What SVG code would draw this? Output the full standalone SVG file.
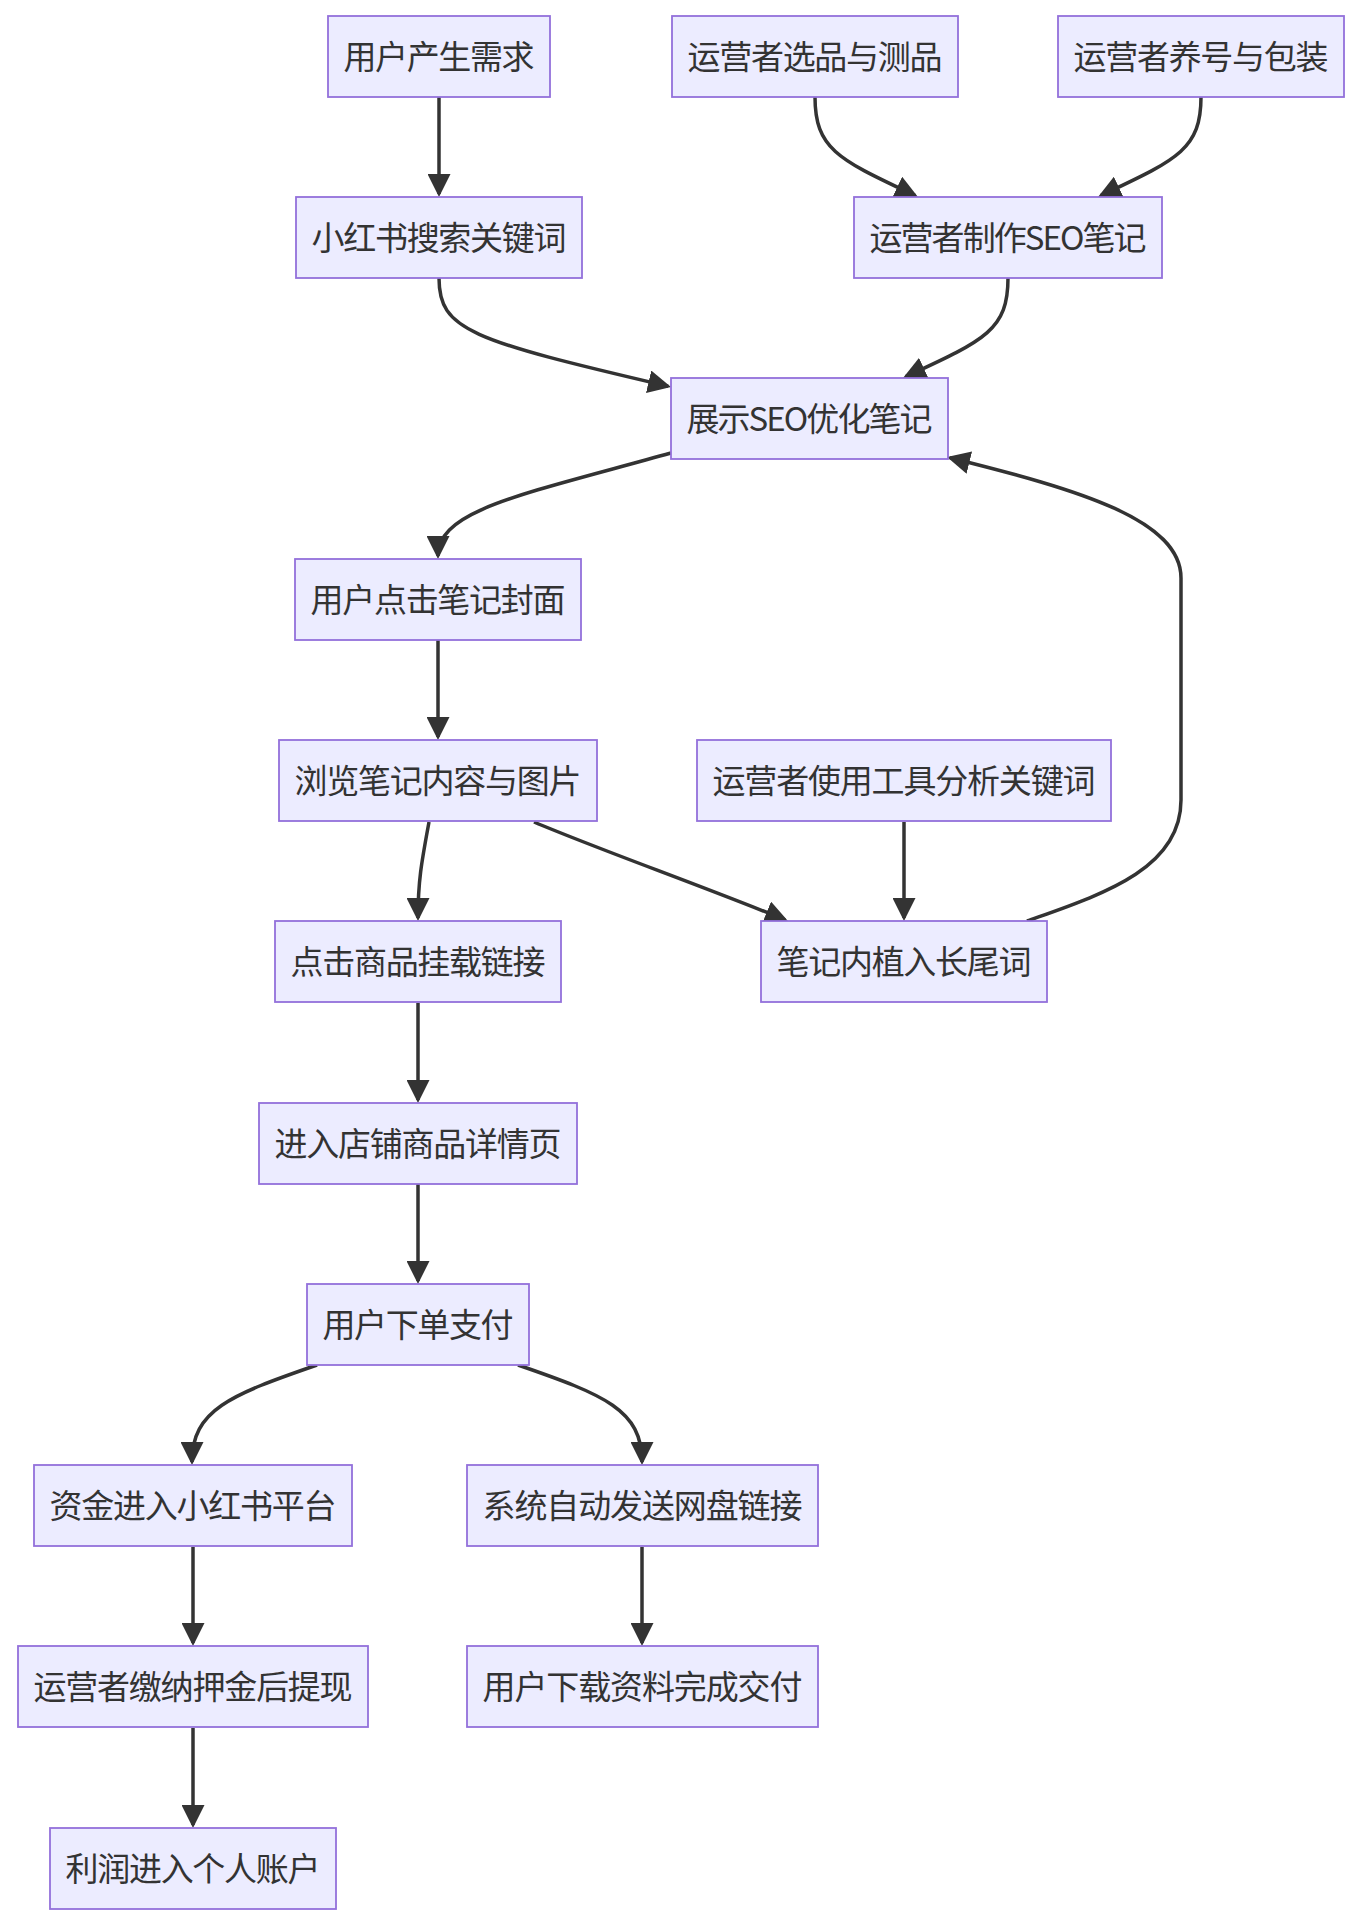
<svg xmlns="http://www.w3.org/2000/svg" width="1360" height="1926" viewBox="0 0 1360 1926">
<style>
.node rect{fill:#ECECFF;stroke:#9370DB;stroke-width:1.8}
.node text{font-family:"Noto Sans CJK SC","Noto Sans",sans-serif;font-size:33px;fill:#333;text-anchor:middle}
.edges path{fill:none;stroke:#333;stroke-width:3.5;marker-end:url(#arrow)}
</style>
<defs>
<marker id="arrow" viewBox="0 0 10 10" refX="8.7" refY="5" markerWidth="23" markerHeight="23" markerUnits="userSpaceOnUse" orient="auto">
<path d="M0,0 L10,5 L0,10 z" fill="#333"/>
</marker>
</defs>
<rect width="1360" height="1926" fill="#fff"/>
<g class="edges">
<path d="M439,97 L439,194"/>
<path d="M815,97 C815,150 840,160 915.3,195.7"/>
<path d="M1201,97 C1201,150 1176,160 1100.7,195.7"/>
<path d="M439,278 C439,330 470,340 668.1,386.3"/>
<path d="M1008,278 C1008,330 985,340 905.7,376.7"/>
<path d="M671,453 C520,495 438,510 438,556"/>
<path d="M1027,921 C1100,895 1181,870 1181,800 L1181,578 C1181,520 1080,490 949.9,457.7"/>
<path d="M438,640 L438,737"/>
<path d="M429,822 C422,860 418,880 418,918"/>
<path d="M534,822 C600,850 700,885 785.2,919.8"/>
<path d="M904,822 L904,918"/>
<path d="M418,1003 L418,1100"/>
<path d="M418,1184 L418,1281"/>
<path d="M317,1365 C230,1395 192,1410 192,1462"/>
<path d="M518,1365 C605,1395 642,1410 642,1462"/>
<path d="M193,1547 L193,1643"/>
<path d="M642,1547 L642,1643"/>
<path d="M193,1728 L193,1825"/>
</g>
<g id="n1" class="node"><rect x="328" y="16" width="222" height="81"/><text x="439" y="69" textLength="191">用户产生需求</text></g>
<g id="n2" class="node"><rect x="672" y="16" width="286" height="81"/><text x="815" y="69" textLength="255">运营者选品与测品</text></g>
<g id="n3" class="node"><rect x="1058" y="16" width="286" height="81"/><text x="1201" y="69" textLength="255">运营者养号与包装</text></g>
<g id="n4" class="node"><rect x="296" y="197" width="286" height="81"/><text x="439" y="250" textLength="255">小红书搜索关键词</text></g>
<g id="n5" class="node"><rect x="854" y="197" width="308" height="81"/><text x="1008" y="250" textLength="277">运营者制作SEO笔记</text></g>
<g id="n6" class="node"><rect x="671" y="378" width="277" height="81"/><text x="809.5" y="431" textLength="246">展示SEO优化笔记</text></g>
<g id="n7" class="node"><rect x="295" y="559" width="286" height="81"/><text x="438" y="612" textLength="255">用户点击笔记封面</text></g>
<g id="n8" class="node"><rect x="279" y="740" width="318" height="81"/><text x="438" y="793" textLength="287">浏览笔记内容与图片</text></g>
<g id="n9" class="node"><rect x="697" y="740" width="414" height="81"/><text x="904" y="793" textLength="383">运营者使用工具分析关键词</text></g>
<g id="n10" class="node"><rect x="275" y="921" width="286" height="81"/><text x="418" y="974" textLength="255">点击商品挂载链接</text></g>
<g id="n11" class="node"><rect x="761" y="921" width="286" height="81"/><text x="904" y="974" textLength="255">笔记内植入长尾词</text></g>
<g id="n12" class="node"><rect x="259" y="1103" width="318" height="81"/><text x="418" y="1156" textLength="287">进入店铺商品详情页</text></g>
<g id="n13" class="node"><rect x="307" y="1284" width="222" height="81"/><text x="418" y="1337" textLength="191">用户下单支付</text></g>
<g id="n14" class="node"><rect x="34" y="1465" width="318" height="81"/><text x="193" y="1518" textLength="287">资金进入小红书平台</text></g>
<g id="n15" class="node"><rect x="467" y="1465" width="351" height="81"/><text x="642.5" y="1518" textLength="320">系统自动发送网盘链接</text></g>
<g id="n16" class="node"><rect x="18" y="1646" width="350" height="81"/><text x="193" y="1699" textLength="319">运营者缴纳押金后提现</text></g>
<g id="n17" class="node"><rect x="467" y="1646" width="351" height="81"/><text x="642.5" y="1699" textLength="320">用户下载资料完成交付</text></g>
<g id="n18" class="node"><rect x="50" y="1828" width="286" height="81"/><text x="193" y="1881" textLength="255">利润进入个人账户</text></g>
</svg>
